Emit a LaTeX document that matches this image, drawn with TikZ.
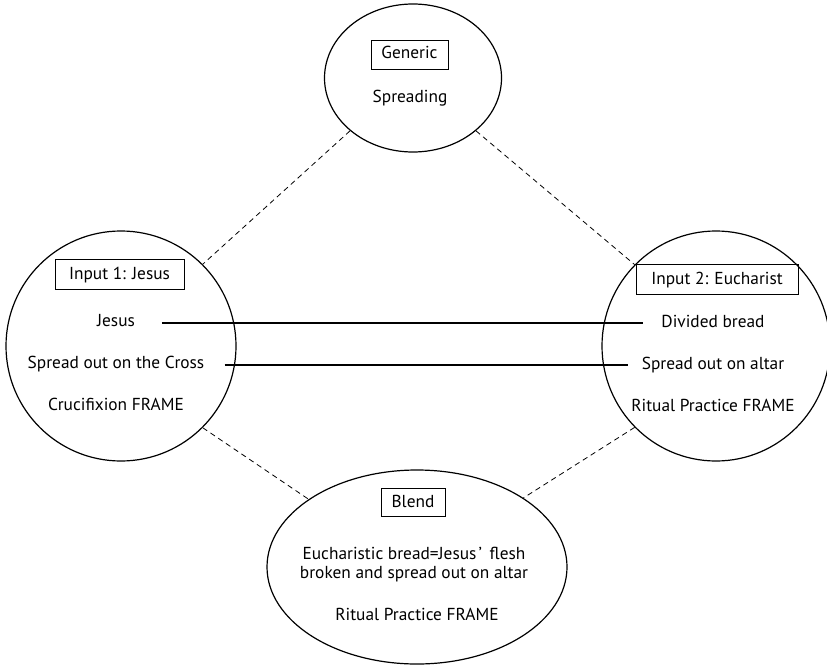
\documentclass[tikz,border=0pt]{standalone}
\usepackage{fontspec}
\setmainfont{PT Sans}
\usetikzlibrary{shapes.geometric}
\begin{document}
\begin{tikzpicture}[x=0.75pt,y=-0.75pt,
  every node/.style={font=\fontsize{13pt}{15pt}\selectfont},
  space/.style={draw, ellipse, line width=0.9pt, inner sep=0pt},
  tag/.style={draw, line width=0.6pt, inner sep=0pt},
  label/.style={anchor=base, inner sep=0pt},
  link/.style={dashed, line width=0.6pt, dash pattern=on 4pt off 3pt},
  map/.style={line width=1.5pt}]
\useasboundingbox (0,0) rectangle (827,667);

% mental spaces
\node[space, minimum width=177*0.75pt, minimum height=148*0.75pt] (gen) at (413,78) {};
\node[space, minimum width=230*0.75pt, minimum height=230*0.75pt] (in1) at (121,346) {};
\node[space, minimum width=228*0.75pt, minimum height=230*0.75pt] (in2) at (716,346) {};
\node[space, minimum width=300*0.75pt, minimum height=194*0.75pt] (bl) at (417,567) {};

% space titles
\node[tag, minimum width=77*0.75pt, minimum height=29*0.75pt] (genT) at (409.5,54.5) {};
\node[label] at (409.5,59) {Generic};
\node[tag, minimum width=129*0.75pt, minimum height=30*0.75pt] (in1T) at (119.5,274) {};
\node[label] at (119.5,279) {Input 1: Jesus};
\node[tag, minimum width=162*0.75pt, minimum height=30*0.75pt] (in2T) at (717,279) {};
\node[label] at (717,284) {Input 2: Eucharist};
\node[tag, minimum width=64*0.75pt, minimum height=28*0.75pt] (blT) at (413,502) {};
\node[label] at (413,507) {Blend};

% contents
\node[label] (spr) at (410,102) {Spreading};
\node[label] (jes) at (116,326) {Jesus};
\node[label] (cross) at (116,368) {Spread out on the Cross};
\node[label] (cruc) at (116,410) {Crucifixion FRAME};
\node[label] (bread) at (713,327) {Divided bread};
\node[label] (altar) at (713,369) {Spread out on altar};
\node[label] (rit2) at (713,411) {Ritual Practice FRAME};
\node[label] (bl1) at (414,559) {Eucharistic bread=Jesus\kern0.12em’\kern0.45em flesh};
\node[label] (bl2) at (414,578) {broken and spread out on altar};
\node[label] (bl3) at (417,620) {Ritual Practice FRAME};

% heights of the two mapping lines
\coordinate (row1) at (0,323);
\coordinate (row2) at (0,365);

% cross-space mappings
\draw[map] ([xshift=20pt]jes.base east |- row1) -- ([xshift=-14pt]bread.base west |- row1);
\draw[map] ([xshift=15pt]cross.base east |- row2) -- ([xshift=-10pt]altar.base west |- row2);

% projections between spaces
\draw[link] (gen.220) -- (in1.45);
\draw[link] (gen.320) -- (in2.135);
\draw[link] (in1.-45) -- (bl.148);
\draw[link] (in2.225) -- (bl.33);
\end{tikzpicture}
\end{document}
